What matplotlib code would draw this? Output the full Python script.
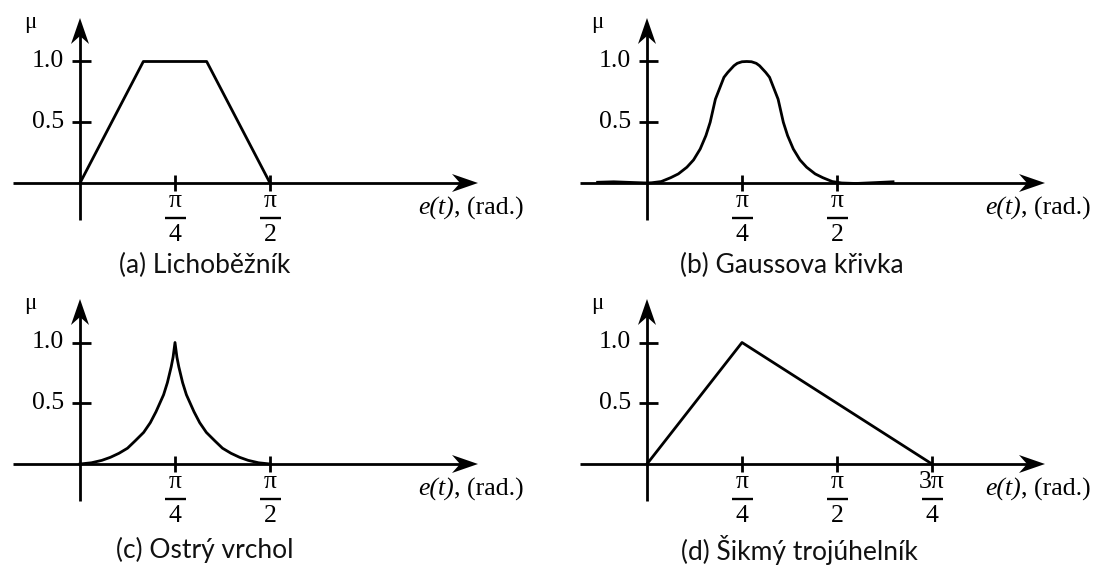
import numpy as np
import matplotlib.pyplot as plt

W, H, DPI = 1101, 570, 100
SERIF = ['Liberation Serif', 'DejaVu Serif']
SANS = ['Lato', 'DejaVu Sans']

# x positions are given in multiples of pi/4 rad
trap_q = [0.0, 2 / 3, 4 / 3, 2.0]
trap_mu = [0.0, 1.0, 1.0, 0.0]

gauss_q = [-0.52, -0.35, -0.15, 0.0, 0.05, 0.15, 0.25, 0.33, 0.42, 0.49,
           0.56, 0.62, 0.665, 0.72, 0.77, 0.81, 0.85, 0.915, 0.95, 1.0,
           1.05, 1.1, 1.15, 1.185, 1.25, 1.29, 1.33, 1.38, 1.435, 1.48,
           1.54, 1.61, 1.68, 1.77, 1.85, 1.95, 2.05, 2.2, 2.4, 2.59]
gauss_mu = [0.006, 0.01, 0.004, 0.0, 0.002, 0.012, 0.044, 0.075, 0.13, 0.19,
            0.28, 0.39, 0.50, 0.69, 0.79, 0.87, 0.91, 0.965, 0.985, 0.998,
            1.0, 0.998, 0.985, 0.965, 0.91, 0.87, 0.79, 0.69, 0.50, 0.39,
            0.28, 0.19, 0.13, 0.075, 0.044, 0.012, 0.0, -0.004, 0.003, 0.01]

peak_q = [0.0, 0.12, 0.23, 0.32, 0.41, 0.5, 0.58, 0.67, 0.74, 0.8, 0.84,
          0.88, 0.92, 0.96, 0.98, 1.0, 1.02, 1.04, 1.08, 1.12, 1.16, 1.2,
          1.26, 1.33, 1.42, 1.5, 1.59, 1.68, 1.77, 1.88, 2.0]
peak_mu = [0.0, 0.01, 0.03, 0.055, 0.088, 0.13, 0.19, 0.26, 0.34, 0.43,
           0.50, 0.57, 0.67, 0.80, 0.88, 1.0, 0.88, 0.80, 0.67, 0.57, 0.50,
           0.43, 0.34, 0.26, 0.19, 0.13, 0.088, 0.055, 0.03, 0.01, 0.0]

tri_q = [0.0, 1.0, 3.0]
tri_mu = [0.0, 1.0, 0.0]

mu_ticks = [0.5, 1.0]
mu_labels = ['0.5', '1.0']

panels = [
    dict(origin=(80, 183), q=trap_q, mu=trap_mu, ticks=[1, 2],
         tick_labels=[('π', '4'), ('π', '2')],
         caption='(a) Lichoběžník', cap_x=205),
    dict(origin=(647, 183), q=gauss_q, mu=gauss_mu, ticks=[1, 2],
         tick_labels=[('π', '4'), ('π', '2')],
         caption='(b) Gaussova křivka', cap_x=792),
    dict(origin=(80, 464), q=peak_q, mu=peak_mu, ticks=[1, 2],
         tick_labels=[('π', '4'), ('π', '2')],
         caption='(c) Ostrý vrchol', cap_x=205),
    dict(origin=(647, 464), q=tri_q, mu=tri_mu, ticks=[1, 2, 3],
         tick_labels=[('π', '4'), ('π', '2'), ('3π', '4')],
         caption='(d) Šikmý trojúhelník', cap_x=799),
]

PX_X = 95.0 / (np.pi / 4)   # pixels per radian
PX_Y = 121.5                # pixels per unit of mu
LW = 2.0
FS = 18.5

fig = plt.figure(figsize=(W / DPI, H / DPI), dpi=DPI)


def arrow_head(ax, tip, direction):
    L, hw, notch = 26.0, 9.0, 8.0
    tx, ty = tip
    if direction == 'x':
        xs = [tx, tx - L / PX_X, tx - (L - notch) / PX_X, tx - L / PX_X]
        ys = [ty, ty + hw / PX_Y, ty, ty - hw / PX_Y]
    else:
        xs = [tx, tx + hw / PX_X, tx, tx - hw / PX_X]
        ys = [ty, ty - L / PX_Y, ty - (L - notch) / PX_Y, ty - L / PX_Y]
    ax.fill(xs, ys, color='black', lw=0, zorder=4)


for p in panels:
    ox, oy = p['origin']
    ax = fig.add_axes([0, 0, 1, 1])
    ax.set_xlim(-ox / PX_X, (W - ox) / PX_X)
    ax.set_ylim(-(H - oy) / PX_Y, oy / PX_Y)
    ax.axis('off')
    ax.patch.set_alpha(0)

    # axes with arrows
    x_tip = 398 / PX_X
    ax.plot([-67 / PX_X, x_tip - 17 / PX_X], [0, 0], color='black', lw=LW,
            solid_capstyle='butt', zorder=3)
    arrow_head(ax, (x_tip, 0), 'x')
    y_tip = 165 / PX_Y
    ax.plot([0, 0], [-37 / PX_Y, y_tip - 17 / PX_Y], color='black', lw=LW,
            solid_capstyle='butt', zorder=3)
    arrow_head(ax, (0, y_tip), 'y')

    # mu ticks
    for v, lab in zip(mu_ticks, mu_labels):
        ax.plot([-8 / PX_X, 11 / PX_X], [v, v], color='black', lw=LW,
                solid_capstyle='butt', zorder=3)
        ax.text(-16 / PX_X, v, lab, ha='right', va='center', fontsize=FS,
                family=SERIF)
    ax.text(-50 / PX_X, 160 / PX_Y, 'μ', ha='center', va='center',
            fontsize=FS - 2, family=SERIF)

    # x ticks with fraction labels
    for t, (num, den) in zip(p['ticks'], p['tick_labels']):
        xt = t * np.pi / 4
        ax.plot([xt, xt], [-8 / PX_Y, 8 / PX_Y], color='black', lw=LW,
                solid_capstyle='butt', zorder=3)
        ax.text(xt, -18 / PX_Y, num, ha='center', va='center', fontsize=FS,
                family=SERIF)
        ax.plot([xt - 10.5 / PX_X, xt + 10.5 / PX_X], [-35 / PX_Y] * 2,
                color='black', lw=1.7, solid_capstyle='butt')
        ax.text(xt, -52 / PX_Y, den, ha='center', va='center', fontsize=FS,
                family=SERIF)

    # axis title
    t1 = ax.text(338 / PX_X, -25 / PX_Y, 'e(t)', style='italic', ha='left',
                 va='center', fontsize=FS, family=SERIF)
    ax.annotate(', (rad.)', xy=(1, 0), xycoords=t1, ha='left', va='bottom',
                fontsize=FS, family=SERIF)

    # membership function
    x = np.array(p['q']) * np.pi / 4
    ax.plot(x, p['mu'], color='black', lw=LW, solid_joinstyle='round',
            zorder=5)

    # caption below panel
    cap_y = 265 if oy < 300 else 550
    fig.text(p['cap_x'] / W, 1 - cap_y / H, p['caption'], ha='center',
             va='center', fontsize=19, family=SANS, color='#111111')

fig.savefig('out.png', dpi=DPI, facecolor='white')
